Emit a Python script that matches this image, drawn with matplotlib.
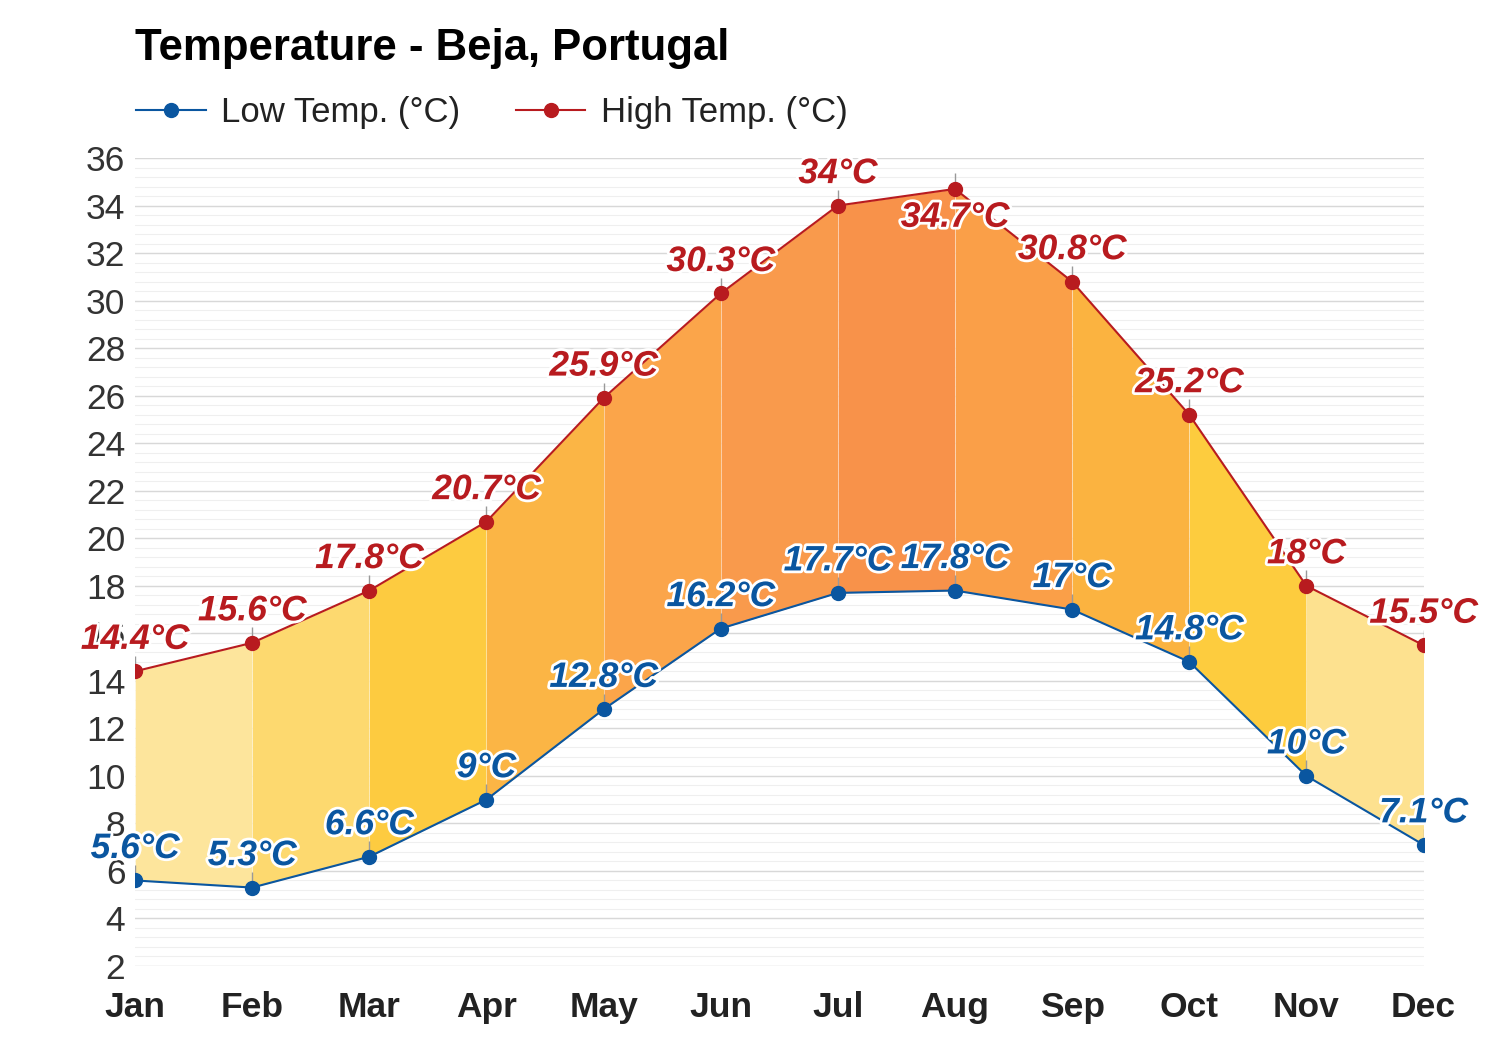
import matplotlib
matplotlib.use("Agg")
import matplotlib.pyplot as plt
import matplotlib.patheffects as pe
from matplotlib.lines import Line2D
import numpy as np

plt.rcParams['font.family'] = ['Liberation Sans', 'DejaVu Sans']

months = ['Jan', 'Feb', 'Mar', 'Apr', 'May', 'Jun',
          'Jul', 'Aug', 'Sep', 'Oct', 'Nov', 'Dec']
low_temp = [5.6, 5.3, 6.6, 9.0, 12.8, 16.2, 17.7, 17.8, 17.0, 14.8, 10.0, 7.1]
high_temp = [14.4, 15.6, 17.8, 20.7, 25.9, 30.3, 34.0, 34.7, 30.8, 25.2, 18.0, 15.5]
# fill colour of each month-to-month band
band_colors = ['#fde59c', '#fdd96f', '#fdcb40', '#fbb545', '#fba54a',
               '#f99a4c', '#f8924a', '#fa9f48', '#fbb340', '#fdcc3e', '#fde18f']

COL_LOW = '#0a56a0'
COL_HIGH = '#b81b1f'

fig = plt.figure(figsize=(15, 10.5), dpi=100)
ax = fig.add_axes([0.09, 0.08, 0.859, 0.7695])

x = np.arange(len(months))

# grid: faint minor lines, light major lines
for yv in np.arange(2, 36.01, 0.4):
    ax.axhline(yv, color='#efefef', lw=0.8, zorder=0)
for yv in np.arange(2, 37, 2):
    ax.axhline(yv, color='#d8d8d8', lw=1.0, zorder=0)

# coloured bands between low and high
for i in range(len(months) - 1):
    xs = x[i:i + 2]
    ax.fill_between(xs, low_temp[i:i + 2], high_temp[i:i + 2],
                    color=band_colors[i], linewidth=0, zorder=1)
    ax.vlines(x[i], low_temp[i], high_temp[i], color='white', lw=0.6,
              alpha=0.5, zorder=1.5)

ax.plot(x, low_temp, color=COL_LOW, lw=1.5, marker='o', ms=10, zorder=3)
ax.plot(x, high_temp, color=COL_HIGH, lw=1.5, marker='o', ms=10, zorder=3)

# small connector ticks above points
ax.vlines(x, low_temp, np.array(low_temp) + 0.65, color='#999999', lw=1, zorder=2)
ax.vlines(x, high_temp, np.array(high_temp) + 0.65, color='#999999', lw=1, zorder=2)

stroke = [pe.withStroke(linewidth=4, foreground='white')]
for vals, col in ((low_temp, COL_LOW), (high_temp, COL_HIGH)):
    for xi, v in zip(x, vals):
        txt = f'{v:g}°C'
        if v + 1.9 > 36:
            ty, va = v - 0.5, 'top'
        else:
            ty, va = v + 0.65, 'bottom'
        ax.text(xi, ty, txt, ha='center', va=va, color=col, fontsize=25.5,
                fontweight='bold', fontstyle='italic', path_effects=stroke,
                zorder=5, clip_on=False)

ax.set_xlim(0, 11)
ax.set_ylim(2, 36)
ax.set_yticks(np.arange(2, 37, 2))
ax.set_xticks(x)
ax.set_xticklabels(months, fontsize=25.5, fontweight='bold', color='#222222')
ax.tick_params(axis='y', labelsize=25.5, labelcolor='#333333', length=0, pad=7)
ax.tick_params(axis='x', length=0, pad=18)
for s in ax.spines.values():
    s.set_visible(False)

fig.text(0.09, 0.954, 'Temperature - Beja, Portugal', fontsize=31.5,
         fontweight='bold', ha='left', va='center')

handles = [Line2D([], [], color=COL_LOW, marker='o', ms=10, lw=1.5),
           Line2D([], [], color=COL_HIGH, marker='o', ms=10, lw=1.5)]
fig.legend(handles, ['Low Temp. (°C)', 'High Temp. (°C)'], ncol=2,
           loc='center left', bbox_to_anchor=(0.07, 0.893), frameon=False,
           fontsize=25, handlelength=2.0, columnspacing=1.6, handletextpad=0.45,
           labelcolor='#222222')

fig.savefig('out.png', dpi=100, facecolor='white')
